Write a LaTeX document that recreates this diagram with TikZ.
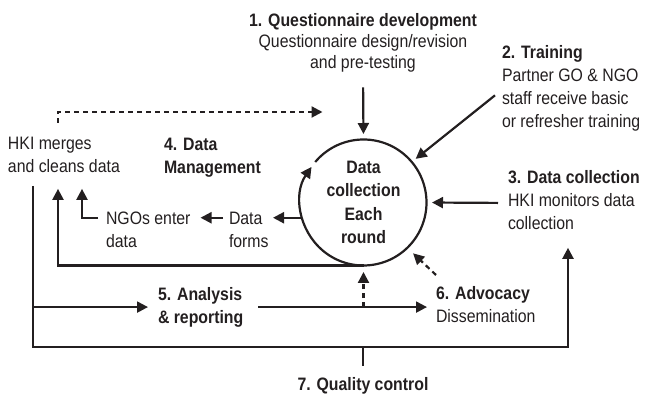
\documentclass[tikz,border=0pt]{standalone}
\usepackage{fontspec}
\setmainfont{Liberation Sans}[FakeStretch=0.88]
\usepackage{xcolor}
\usetikzlibrary{arrows.meta,calc}
\definecolor{ink}{RGB}{35,31,32}
\tikzset{
    txt/.style={inner sep=0pt, outer sep=0pt, text=ink, align=left,
        font=\fontsize{18}{23.3}\selectfont},
    line/.style={draw=ink, line width=2.2pt},
    arr/.style={line, -{Triangle[length=11pt,width=11pt]}},
    darr/.style={arr, dash pattern=on 5pt off 4pt},
}
\begin{document}
\begin{tikzpicture}[x=1pt, y=1pt]
        \useasboundingbox (0,0) rectangle (657,396);
        % the round in the middle
        \node[txt, circle, minimum size=126pt, align=center,
            font=\bfseries\fontsize{18}{23.3}\selectfont] (hub) at (363.5,193.5)
            {Data\\collection\\Each\\round};
        \draw[arr] (hub.140) arc[start angle=140, end angle=-214.4, radius=63pt];
        % steps
        \node[txt, anchor=north, align=center, font=\fontsize{18}{21.3}\selectfont]
            (q-dev) at (363,383)
            {\textbf{1. Questionnaire development}\\Questionnaire design/revision\\and pre-testing};
        \node[txt, anchor=north west] (training) at (502,351)
            {\textbf{2. Training}\\Partner GO \& NGO\\staff receive basic\\or refresher training};
        \node[txt, anchor=north west] (collect) at (508,226)
            {\textbf{3. Data collection}\\HKI monitors data\\collection};
        \node[txt, anchor=north west] (mgmt) at (164,258)
            {\textbf{4. Data}\\\textbf{Management}};
        \node[txt, anchor=north west] (hki) at (8,259) {HKI merges\\and cleans data};
        \node[txt, anchor=north west] (ngo) at (106,184) {NGOs enter\\data};
        \node[txt, anchor=north west] (forms) at (229,184) {Data\\forms};
        \node[txt, anchor=north west] (analysis) at (158,109)
            {\textbf{5. Analysis}\\\textbf{\& reporting}};
        \node[txt, anchor=north west] (advocacy) at (436,110)
            {\textbf{6. Advocacy}\\Dissemination};
        \node[txt, anchor=north] (quality) at (363,19) {\textbf{7. Quality control}};
        \coordinate (qc) at ([yshift=30pt]quality.north);
        % arrows into the round
        \draw[arr, shorten <=15pt, shorten >=5.5pt] (q-dev.south) -- (hub.north);
        \draw[arr, shorten >=5pt] ([shift={(-7,-7)}]training.west) -- (hub.40.8);
        \draw[arr, shorten >=5.5pt] ([shift={(-10,-3)}]collect.west) -- (hub.east);
        % data management
        \draw[arr] (hub.194) -- ([xshift=44pt]forms.west |- hub.194);
        \draw[arr] ([xshift=-6pt]forms.west |- hub.194) -- ([xshift=10pt]ngo.east |- hub.194);
        \draw[arr] ([xshift=-8pt]ngo.west |- hub.194) -| ([shift={(74,-16)}]hki.south west);
        \draw[arr] (hub.south) -| ([shift={(50,-16)}]hki.south west);
        \draw[darr, shorten >=41pt] ([shift={(50,14)}]hki.north west) -- ++(0,11)
            coordinate (dtop) -- (dtop -| hub.north);
        % analysis, advocacy and quality control
        \draw[arr] ([shift={(25,-13)}]hki.south west) |- (qc)
            -| ([shift={(60,-18)}]collect.south west);
        \draw[line, shorten >=11pt] (qc) -- (quality.north);
        \draw[arr, shorten >=10pt] (33,0 |- analysis.west) -- (analysis.west);
        \draw[arr, shorten <=15pt, shorten >=9pt] (analysis.east) -- (advocacy.west |- analysis.east);
        \draw[darr, shorten >=6.5pt] (hub.south |- analysis.east) -- (hub.south);
        \draw[darr, shorten >=8pt] ([yshift=11pt]advocacy.north west) -- (hub.-46);
\end{tikzpicture}
\end{document}
